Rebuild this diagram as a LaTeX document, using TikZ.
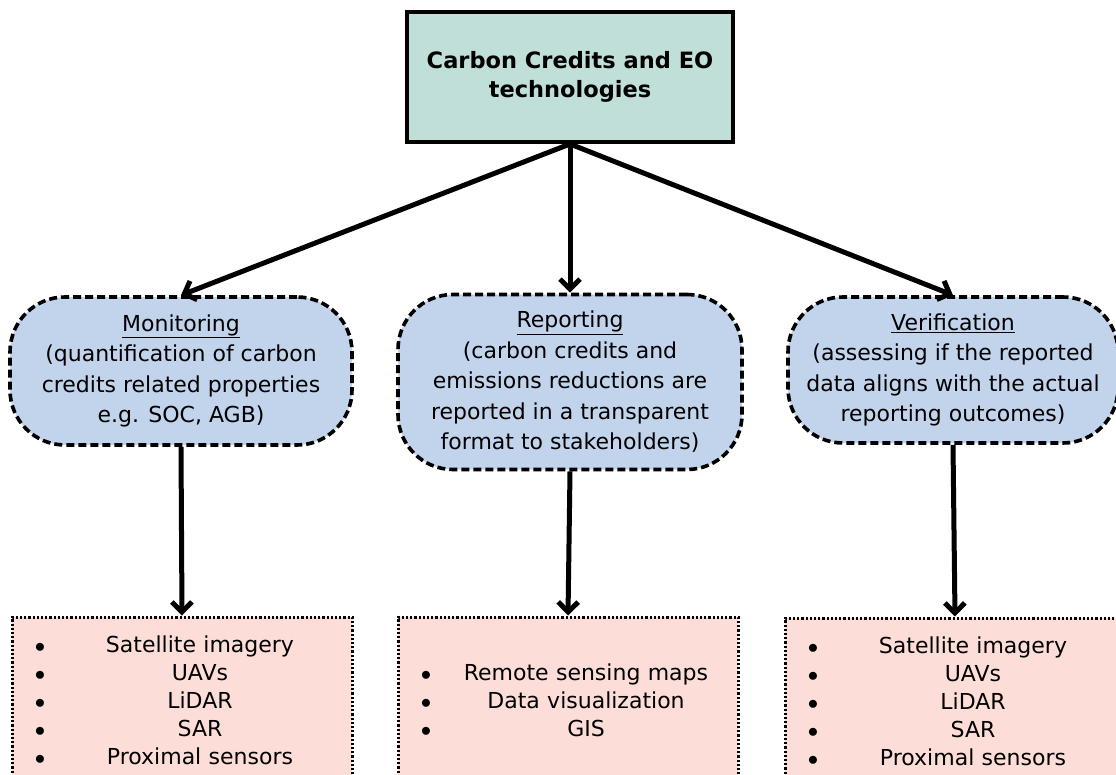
\documentclass[tikz,border=0pt]{standalone}
\usepackage{fontspec}
\setmainfont{DejaVu Sans}
\usetikzlibrary{arrows.meta}
\definecolor{TitleFill}{RGB}{191,223,216}
\definecolor{StageFill}{RGB}{194,211,236}
\definecolor{ToolFill}{RGB}{252,221,216}
\newcommand{\toolitem}[1]{\hspace*{20pt}\makebox[16pt]{$\bullet$}\makebox[304pt]{#1}}

\begin{document}
\begin{tikzpicture}[x=1pt, y=-1pt,
		title/.style={draw, line width=4pt, fill=TitleFill, minimum width=326pt, minimum height=130pt, align=center, font=\bfseries\fontsize{22.5}{29}\selectfont},
		stage/.style={draw, dash pattern=on 8pt off 4pt, line width=3.6pt, fill=StageFill, rounded corners=55pt, align=center, font=\fontsize{22}{30.5}\selectfont},
		tools/.style={draw, dash pattern=on 2.2pt off 2pt, line width=3pt, fill=ToolFill, minimum width=340pt, minimum height=166pt, inner xsep=0pt, text width=340pt, align=left, font=\fontsize{22}{28}\selectfont},
		link/.style={-{Straight Barb[length=10pt,width=20pt]}, line width=5pt}]

		\clip (0,0) rectangle (1116,775);

		\node [title] (Title) at (570,77) {Carbon Credits and EO\\technologies};

		\node [stage, minimum width=342pt, minimum height=148pt] (Monitoring) at (181,371) {\underline{Monitoring}\\(quantification of carbon\\credits related properties\\e.g. SOC, AGB)};
		\node [stage, minimum width=344pt, minimum height=175pt] (Reporting) at (570,382) {\underline{Reporting}\\(carbon credits and\\emissions reductions are\\reported in a transparent\\format to stakeholders)};
		\node [stage, minimum width=330pt, minimum height=146pt] (Verification) at (953,370) {\underline{Verification}\\(assessing if the reported\\data aligns with the actual\\reporting outcomes)};

		\node [tools] (MonitoringTools) at (182,700) {\toolitem{Satellite imagery}\\\toolitem{UAVs}\\\toolitem{LiDAR}\\\toolitem{SAR}\\\toolitem{Proximal sensors}};
		\node [tools] (ReportingTools) at (568,700) {\toolitem{Remote sensing maps}\\\toolitem{Data visualization}\\\toolitem{GIS}};
		\node [tools] (VerificationTools) at (955,701) {\toolitem{Satellite imagery}\\\toolitem{UAVs}\\\toolitem{LiDAR}\\\toolitem{SAR}\\\toolitem{Proximal sensors}};

		\draw [link] (Title.south) -- (Monitoring.north);
		\draw [link] (Title.south) -- (Reporting.north);
		\draw [link] (Title.south) -- (Verification.north);

		\draw [link] (Monitoring.south) -- (MonitoringTools.north);
		\draw [link] (Reporting.south) -- (ReportingTools.north);
		\draw [link] (Verification.south) -- (VerificationTools.north);
	\end{tikzpicture}
\end{document}
